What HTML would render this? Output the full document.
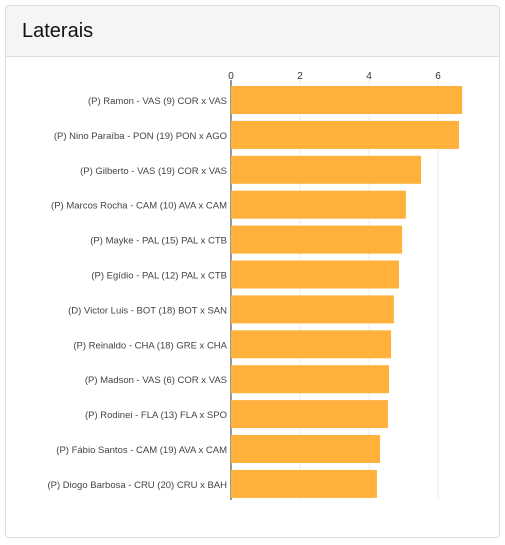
<!DOCTYPE html>
<html><head><meta charset="utf-8"><style>
body{margin:0;background:#fff;font-family:"Liberation Sans",sans-serif;}
.panel{position:absolute;left:5px;top:5px;width:493px;height:531px;border:1px solid #ddd;border-radius:4px;overflow:hidden;}
.hdr{height:50px;background:#f5f5f5;border-bottom:1px solid #ddd;}
.hdr span{position:absolute;left:16px;top:14px;font-size:20px;color:#111;}
svg{position:absolute;left:0;top:0;}
</style></head><body>
<div class="panel">
<div class="hdr"><span>Laterais</span></div>
</div>
<svg id="c" width="505" height="545"></svg>
<script>
const categories=["(P) Ramon - VAS (9) COR x VAS","(P) Nino Paraíba - PON (19) PON x AGO","(P) Gilberto - VAS (19) COR x VAS","(P) Marcos Rocha - CAM (10) AVA x CAM","(P) Mayke - PAL (15) PAL x CTB","(P) Egídio - PAL (12) PAL x CTB","(D) Victor Luis - BOT (18) BOT x SAN","(P) Reinaldo - CHA (18) GRE x CHA","(P) Madson - VAS (6) COR x VAS","(P) Rodinei - FLA (13) FLA x SPO","(P) Fábio Santos - CAM (19) AVA x CAM","(P) Diogo Barbosa - CRU (20) CRU x BAH"];
const values=[6.70,6.61,5.51,5.07,4.96,4.87,4.72,4.64,4.58,4.55,4.32,4.23];
const ticks=[0,2,4,6];
const NS="http://www.w3.org/2000/svg";
const svg=document.getElementById('c');
const x=v=>231+v*34.5;
const y=i=>86+i*34.9;
function mk(t,a){const e=document.createElementNS(NS,t);for(const k in a)e.setAttribute(k,a[k]);svg.appendChild(e);return e;}
ticks.forEach(t=>{
  const g=mk('line',{x1:x(t),x2:x(t),y1:80,y2:500,stroke:t===0?'#333':'#eee','stroke-width':1});
  
  
  const l=mk('text',{x:x(t),y:79,'font-size':10,fill:'#333','text-anchor':'middle'});
  l.textContent=t;
  
  
});
values.forEach((v,i)=>{
  const r=mk('rect',{x:x(0),y:y(i),width:x(v)-x(0),height:28,fill:'#ffb13b'});
  
  
  const t=mk('text',{x:227,y:y(i)+18,'font-size':9.5,fill:'#444','text-anchor':'end'});
  t.textContent=categories[i];
  
  
});
</script>
</body></html>
